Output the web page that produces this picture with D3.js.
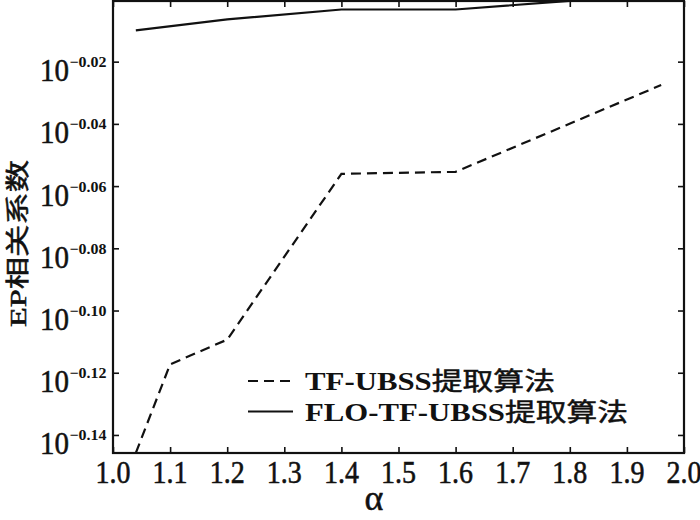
<!DOCTYPE html>
<html>
<head>
<meta charset="utf-8">
<script src="https://cdn.jsdelivr.net/npm/d3@7/dist/d3.min.js"></script>
<style>
  html, body { margin: 0; padding: 0; background: #fff; }
  svg { display: block; }
  text { fill: #111; }
</style>
</head>
<body>
<svg id="chart" width="700" height="520"></svg>
<script>
// ---- data ----
const alphaValues = [1.04, 1.1, 1.2, 1.4, 1.6, 1.96];
const tfUbss = [0.7149, 0.7633, 0.7774, 0.8789, 0.8802, 0.9386];
const floAlpha = [1.04, 1.2, 1.4, 1.6, 1.8, 1.96];
const floTfUbss = [0.9773, 0.9853, 0.9926, 0.9926, 0.9990, 1.0];
const xTicks = [1.0, 1.1, 1.2, 1.3, 1.4, 1.5, 1.6, 1.7, 1.8, 1.9, 2.0];
const yTickExponents = [-0.02, -0.04, -0.06, -0.08, -0.10, -0.12, -0.14];
const seriesLatin = ["TF-UBSS", "FLO-TF-UBSS"];
const seriesSuffix = "提取算法";
const xTitle = "α";
const yTitle = "EP相关系数";

// ---- layout ----
const L = 113, R = 684, T = 1, B = 453;
const svg = d3.select("#chart");
const fontLatin = "'Liberation Serif', 'Times New Roman', 'Noto Sans CJK SC', serif";

const x = d3.scaleLinear().domain([1.0, 2.0]).range([L, R]);
const y = d3.scaleLog().domain([Math.pow(10, -0.1458), Math.pow(10, -0.0005)]).range([B, T]);

svg.append("defs").append("clipPath").attr("id", "clip")
  .append("rect").attr("x", L).attr("y", T).attr("width", R - L).attr("height", B - T);

const yTickVals = yTickExponents.map(e => Math.pow(10, e));

// axes with inward ticks on all four sides
const axStyle = g => {
  g.select(".domain").remove();
  g.selectAll(".tick line").attr("stroke", "#111").attr("stroke-width", 1.6);
  g.selectAll(".tick text").remove();
};
svg.append("g").attr("transform", `translate(0,${B})`)
  .call(d3.axisBottom(x).tickValues(xTicks).tickSize(-6).tickFormat("")).call(axStyle);
svg.append("g").attr("transform", `translate(0,${T})`)
  .call(d3.axisTop(x).tickValues(xTicks).tickSize(-6).tickFormat("")).call(axStyle);
svg.append("g").attr("transform", `translate(${L},0)`)
  .call(d3.axisLeft(y).tickValues(yTickVals).tickSize(-6).tickFormat("")).call(axStyle);
svg.append("g").attr("transform", `translate(${R},0)`)
  .call(d3.axisRight(y).tickValues(yTickVals).tickSize(-6).tickFormat("")).call(axStyle);

const heavy = s => s.attr("stroke", "#111").attr("stroke-width", 0.5);

// x tick labels (slightly tall glyphs like the reference)
svg.append("g").selectAll("text").data(xTicks).join("text")
  .attr("transform", d => `translate(${x(d)},483) scale(1,1.12)`)
  .attr("text-anchor", "middle")
  .attr("font-family", fontLatin).attr("font-size", 28)
  .call(heavy)
  .text(d => d3.format(".1f")(d));

// y tick labels: 10^exp
const yl = svg.append("g").selectAll("g").data(yTickExponents).join("g");
yl.append("text")
  .attr("transform", d => `translate(69,${y(Math.pow(10, d)) + 19.5}) scale(1,1.1)`)
  .attr("text-anchor", "end")
  .attr("font-family", fontLatin).attr("font-size", 29)
  .call(heavy)
  .text("10");
yl.append("text")
  .attr("x", 69.5).attr("y", d => y(Math.pow(10, d)) + 5.5)
  .attr("font-family", fontLatin).attr("font-size", 15).attr("font-weight", "bold")
  .attr("textLength", 37).attr("lengthAdjust", "spacingAndGlyphs")
  .text(d => "\u2212" + d3.format(".2f")(-d));

// lines
const line = d3.line().x(d => x(d[0])).y(d => y(d[1]));
const plot = svg.append("g").attr("clip-path", "url(#clip)");
plot.append("path")
  .datum(alphaValues.map((a, i) => [a, tfUbss[i]]))
  .attr("d", line).attr("fill", "none").attr("stroke", "#111")
  .attr("stroke-width", 2.2).attr("stroke-dasharray", "10,6");
plot.append("path")
  .datum(floAlpha.map((a, i) => [a, floTfUbss[i]]))
  .attr("d", line).attr("fill", "none").attr("stroke", "#111")
  .attr("stroke-width", 2.2);

// frame
svg.append("rect").attr("x", L).attr("y", T).attr("width", R - L).attr("height", B - T)
  .attr("fill", "none").attr("stroke", "#111").attr("stroke-width", 2.2);

// legend
const leg = svg.append("g");
leg.append("line").attr("x1", 248).attr("x2", 293).attr("y1", 381).attr("y2", 381)
  .attr("stroke", "#111").attr("stroke-width", 2).attr("stroke-dasharray", "10,6");
leg.append("line").attr("x1", 248).attr("x2", 293).attr("y1", 411.5).attr("y2", 411.5)
  .attr("stroke", "#111").attr("stroke-width", 2);
const legendText = (latin, yPos, len) => {
  const t = leg.append("text").attr("x", 305).attr("y", yPos)
    .attr("font-family", fontLatin).attr("font-size", 25)
    .attr("textLength", len).attr("lengthAdjust", "spacingAndGlyphs");
  t.append("tspan").attr("font-weight", "bold").text(latin);
  t.append("tspan").attr("stroke", "#111").attr("stroke-width", 0.5).text(seriesSuffix);
};
legendText(seriesLatin[0], 390, 250);
legendText(seriesLatin[1], 421, 323);

// axis titles
svg.append("text").attr("x", 374).attr("y", 510).attr("text-anchor", "middle")
  .attr("font-family", fontLatin).attr("font-size", 36).call(heavy).text(xTitle);
svg.append("text").attr("transform", "translate(26,243.5) rotate(-90)")
  .attr("text-anchor", "middle")
  .attr("font-family", fontLatin).attr("font-size", 24)
  .call(heavy)
  .attr("textLength", 167).attr("lengthAdjust", "spacingAndGlyphs")
  .text(yTitle);
</script>
</body>
</html>
